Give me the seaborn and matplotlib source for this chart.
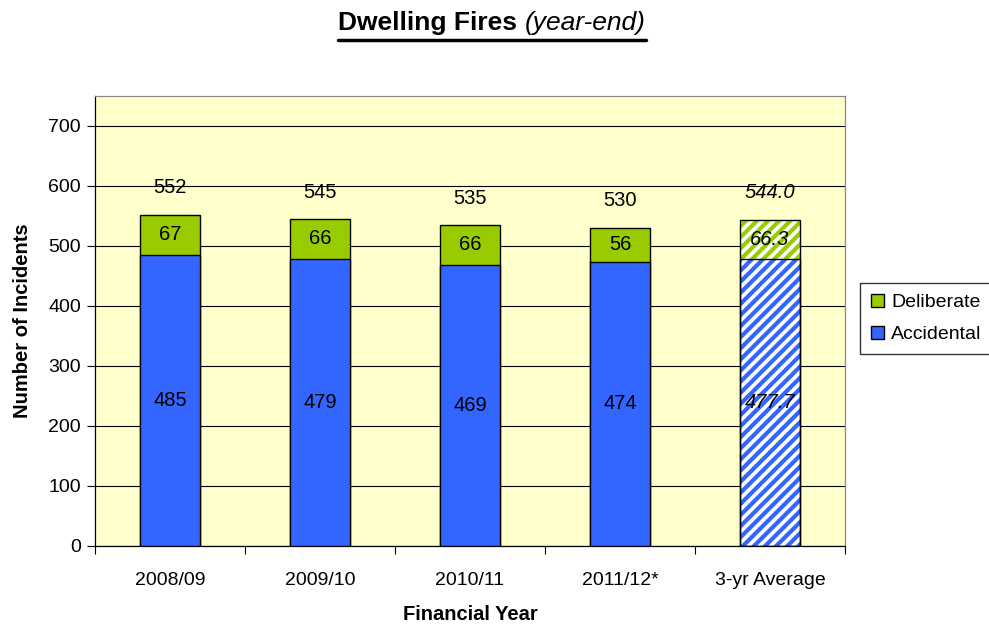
import matplotlib
matplotlib.use("Agg")
import matplotlib.pyplot as plt
import seaborn as sns
import pandas as pd
from matplotlib.patches import Patch
from matplotlib.lines import Line2D

categories = ["2008/09", "2009/10", "2010/11", "2011/12*", "3-yr Average"]
accidental = [485, 479, 469, 474, 477.7]
deliberate = [67, 66, 66, 56, 66.3]
totals = [552, 545, 535, 530, 544.0]
acc_labels = ["485", "479", "469", "474", "477.7"]
del_labels = ["67", "66", "66", "56", "66.3"]
tot_labels = ["552", "545", "535", "530", "544.0"]

sns.set_theme(style="white")
plt.rcParams["font.family"] = ["Liberation Sans", "DejaVu Sans"]
plt.rcParams["hatch.linewidth"] = 3.0
plt.rcParams["text.color"] = "black"
plt.rcParams["axes.labelcolor"] = "black"
plt.rcParams["xtick.color"] = "black"
plt.rcParams["ytick.color"] = "black"

GREEN = "#99CC00"
BLUE = "#3366FF"

df = pd.DataFrame({"cat": categories, "acc": accidental, "del": deliberate, "tot": totals})

fig = plt.figure(figsize=(9.89, 6.27), dpi=100)
ax = fig.add_axes([95/989, 81/627, 750/989, 450/627])
ax.set_facecolor("#FFFFCC")

sns.barplot(data=df, x="cat", y="tot", color=GREEN, saturation=1, width=0.4,
            edgecolor="black", linewidth=1.0, ax=ax, zorder=3)
n = len(categories)
sns.barplot(data=df, x="cat", y="acc", color=BLUE, saturation=1, width=0.4,
            edgecolor="black", linewidth=1.0, ax=ax, zorder=3)

patches = ax.patches
tot_p = patches[:n]
acc_p = patches[n:2*n]
for p, hc in ((tot_p[-1], GREEN), (acc_p[-1], BLUE)):
    p.set_facecolor("white")
    p.set_hatch("///")
    p.set_edgecolor(hc)
    p.set_linewidth(0)
    x, y = p.get_xy()
    ax.add_patch(plt.Rectangle((x, y), p.get_width(), p.get_height(), fill=False,
                               edgecolor="black", linewidth=1.0, zorder=4))

LFS = 14.5
for i in range(n):
    style = "italic" if i == n - 1 else "normal"
    ax.text(i, accidental[i] / 2, acc_labels[i], ha="center", va="center",
            fontsize=LFS, style=style, zorder=5, color="black")
    ax.text(i, accidental[i] + deliberate[i] / 2, del_labels[i], ha="center", va="center",
            fontsize=LFS, style=style, zorder=5, color="black")
    ax.text(i, totals[i] + 45, tot_labels[i], ha="center", va="center",
            fontsize=LFS, style=style, zorder=5, color="black")

ax.set_ylim(0, 750)
ax.set_xlim(-0.5, n - 0.5)
ax.set_yticks(range(0, 701, 100))
ax.yaxis.grid(True, color="black", linewidth=0.8, zorder=0)
ax.set_axisbelow(True)
ax.tick_params(axis="y", which="major", length=6, width=0.8, color="black",
               labelsize=14, left=True, pad=4, labelcolor="black")
ax.set_xticks(range(n))
ax.set_xticklabels(categories)
ax.tick_params(axis="x", which="major", length=0, labelsize=14, pad=19, labelcolor="black")
ax.set_xticks([i + 0.5 for i in range(-1, n)], minor=True)
ax.tick_params(axis="x", which="minor", length=6, width=0.8, color="black", bottom=True)
ax.set_xlabel("Financial Year", fontsize=14.5, fontweight="bold", labelpad=11, color="black")
ax.set_ylabel("Number of Incidents", fontsize=14.5, fontweight="bold", labelpad=12, color="black")

for s in ["left", "bottom"]:
    ax.spines[s].set_color("black")
    ax.spines[s].set_linewidth(0.9)
for s in ["top", "right"]:
    ax.spines[s].set_color("#888888")
    ax.spines[s].set_linewidth(0.9)

# title
TY = 1 - 23/627
t1 = fig.text(0.5, TY, "Dwelling Fires ", ha="right", va="center",
              fontsize=19, fontweight="bold", color="black")
t2 = fig.text(0.5, TY, "(year-end)", ha="left", va="center",
              fontsize=19, style="italic", color="black")
fig.canvas.draw()
r = fig.canvas.get_renderer()
b1 = t1.get_window_extent(r)
b2 = t2.get_window_extent(r)
w = b1.width + b2.width
x0 = 492 - w / 2
t1.set_position(((x0 + b1.width) / 989, TY))
t2.set_position(((x0 + b1.width) / 989, TY))
fig.add_artist(Line2D([x0 / 989, (x0 + w) / 989], [1 - 40/627, 1 - 40/627],
                      color="black", linewidth=2.5, transform=fig.transFigure))

handles = [Patch(facecolor=GREEN, edgecolor="black", label="Deliberate"),
           Patch(facecolor=BLUE, edgecolor="black", label="Accidental")]
leg = fig.legend(handles=handles, loc="upper left", bbox_to_anchor=(860/989, 1 - 283/627),
                 frameon=True, fancybox=False, fontsize=14, handlelength=0.7,
                 handleheight=0.7, handletextpad=0.35, borderpad=0.55, labelspacing=0.75,
                 borderaxespad=0)
leg.get_frame().set_edgecolor("black")
leg.get_frame().set_linewidth(1.0)
for t in leg.get_texts():
    t.set_color("black")

fig.savefig("out.png", dpi=100, facecolor="white")
